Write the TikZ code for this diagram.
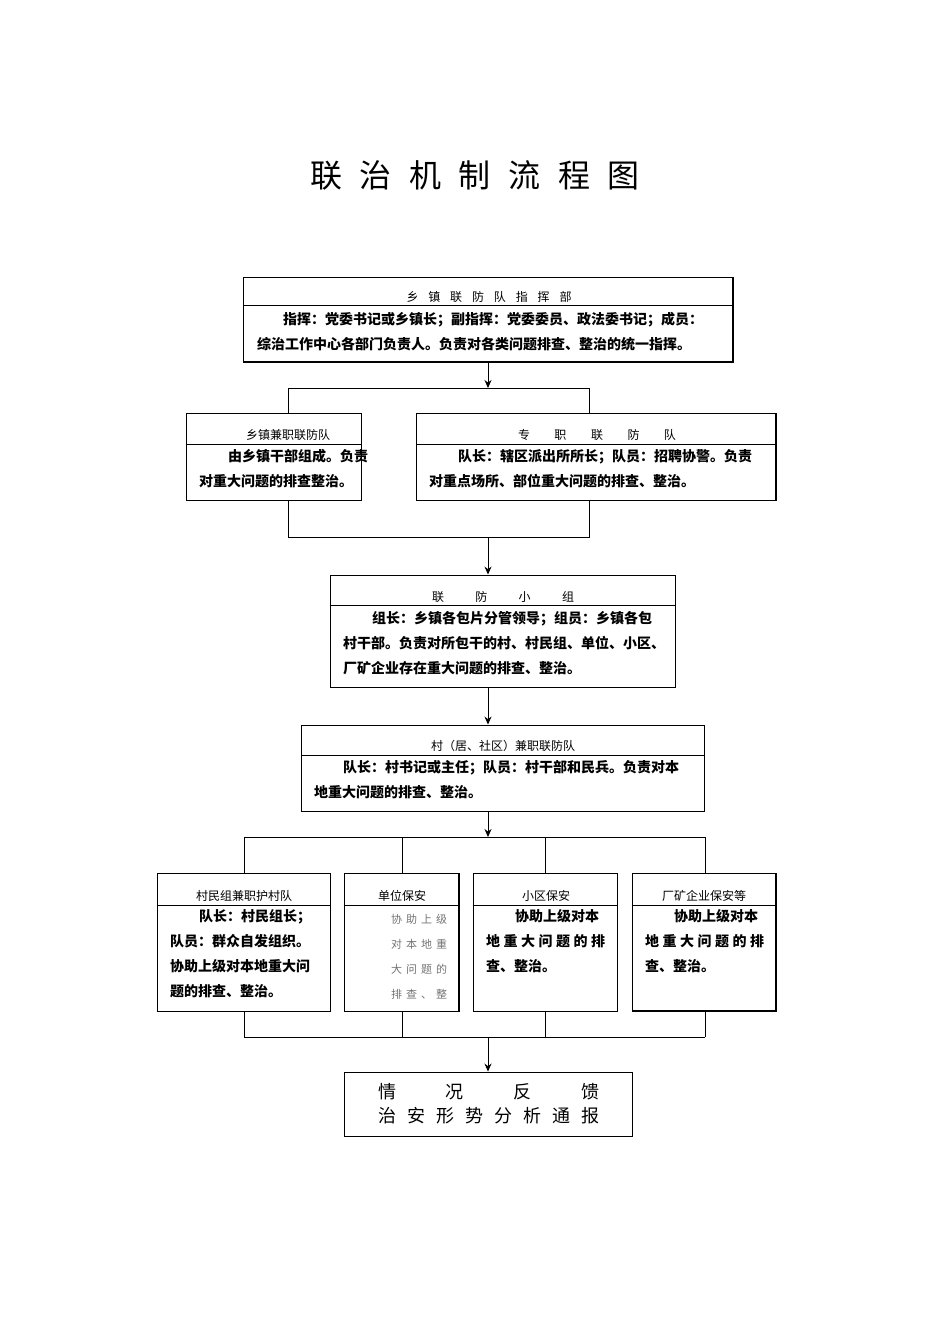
\documentclass[tikz,border=0pt]{standalone}
\usepackage{fontspec}
\setmainfont{Noto Sans CJK SC}
\usetikzlibrary{arrows.meta}
\tikzset{
 box/.style={draw,line width=0.9pt,inner sep=0pt},
 hd/.style={font=\fontsize{12}{12}\selectfont,inner sep=0pt},
 bd/.style={font=\fontsize{14}{25}\selectfont\bfseries,inner sep=0pt,anchor=north west,align=left},
 ln/.style={line width=0.9pt},
 arr/.style={line width=0.9pt,-{Stealth[length=8pt,width=7pt]}},
 sh/.style={line width=2pt}
}
\newcommand{\spr}[2]{\makebox[#1][s]{#2}}
\begin{document}
\begin{tikzpicture}[x=1pt,y=-1pt]
\useasboundingbox (0,0) rectangle (950,1344);
\node[font=\fontsize{32}{32}\selectfont,inner sep=0pt] (title) at (475,175) {\spr{330pt}{联\hfill 治\hfill 机\hfill 制\hfill 流\hfill 程\hfill 图}};
% top
\node[box,minimum width=490,minimum height=85] (top) at (488,319.5) {};
\draw[ln] (243,305) -- (733,305);
\draw[sh] (244,362) -- (733,362) -- (733,278);
\node[hd] (toph) at (489,297) {\spr{165pt}{乡\hfill 镇\hfill 联\hfill 防\hfill 队\hfill 指\hfill 挥\hfill 部}};
\node[bd] (topt) at (257,312) {\hspace*{26pt}指挥：党委书记或乡镇长；副指挥：党委委员、政法委书记；成员：\\综治工作中心各部门负责人。负责对各类问题排查、整治的统一指挥。};
% second row
\node[box,minimum width=175,minimum height=87] (L) at (273.5,456.5) {};
\draw[ln] (186,444) -- (361,444);
\node[hd] (Lh) at (288,435) {乡镇兼职联防队};
\node[bd] (Lt) at (199,449) {\hspace*{29pt}由乡镇干部组成。负责\\对重大问题的排查整治。};
\node[box,minimum width=360,minimum height=87] (R) at (596,456.5) {};
\draw[ln] (416,444) -- (776,444);
\draw[sh] (776,413) -- (776,500);
\node[hd] (Rh) at (597,435) {\spr{158pt}{专\hfill 职\hfill 联\hfill 防\hfill 队}};
\node[bd] (Rt) at (429,449) {\hspace*{29pt}队长：辖区派出所所长；队员：招聘协警。负责\\对重点场所、部位重大问题的排查、整治。};
\coordinate (j1) at (488,388);
\coordinate (j1l) at (288,388);
\coordinate (j1r) at (589,388);
\draw[arr] (top.south) -- (j1);
\draw[ln] (j1l) -- (j1r);
\draw[ln] (j1l) -- (L.north -| j1l);
\draw[ln] (j1r) -- (R.north -| j1r);
\coordinate (j2) at (488,537);
\coordinate (j2l) at (288,537);
\coordinate (j2r) at (589,537);
\draw[ln] (L.south -| j2l) -- (j2l) -- (j2r) -- (R.south -| j2r);
% third
\node[box,minimum width=345,minimum height=112] (B3) at (502.5,631) {};
\draw[ln] (330,605) -- (675,605);
\node[hd] (B3h) at (503,597) {\spr{142pt}{联\hfill 防\hfill 小\hfill 组}};
\node[bd] (B3t) at (343,611) {\hspace*{29pt}组长：乡镇各包片分管领导；组员：乡镇各包\\村干部。负责对所包干的村、村民组、单位、小区、\\厂矿企业存在重大问题的排查、整治。};
\draw[arr] (j2) -- (B3.north -| j2);
% fourth
\node[box,minimum width=403,minimum height=86] (B4) at (502.5,768) {};
\draw[ln] (301,755) -- (704,755);
\node[hd] (B4h) at (503,746) {村（居、社区）兼职联防队};
\node[bd] (B4t) at (314,760) {\hspace*{29pt}队长：村书记或主任；队员：村干部和民兵。负责对本\\地重大问题的排查、整治。};
\draw[arr] (B3.south -| j2) -- (B4.north -| j2);
% fifth row
\coordinate (j3) at (488,837);
\coordinate (j3a) at (244,837);
\coordinate (j3b) at (402,837);
\coordinate (j3c) at (545,837);
\coordinate (j3d) at (705,837);
\draw[arr] (B4.south -| j3) -- (j3);
\draw[ln] (j3a) -- (j3d);
\node[box,minimum width=173,minimum height=138] (B5) at (243.5,942) {};
\node[box,minimum width=115,minimum height=138] (B6) at (401.5,942) {};
\node[box,minimum width=144,minimum height=138] (B7) at (545,942) {};
\node[box,minimum width=144,minimum height=138] (B8) at (704,942) {};
\draw[sh] (459,873) -- (459,1011);
\draw[sh] (776,873) -- (776,1011) -- (632,1011);
\foreach \b/\c in {B5/j3a,B6/j3b,B7/j3c,B8/j3d} {
  \draw[ln] (\c) -- (\b.north -| \c);
  \draw[ln] (\b.west |- 0,905) -- (\b.east |- 0,905);
}
\node[hd] (B5h) at (244,896) {村民组兼职护村队};
\node[hd] (B6h) at (402,896) {单位保安};
\node[hd] (B7h) at (546,896) {小区保安};
\node[hd] (B8h) at (704,896) {厂矿企业保安等};
\node[bd] (B5t) at (170,909) {\hspace*{29pt}队长：村民组长；\\队员：群众自发组织。\\协助上级对本地重大问\\题的排查、整治。};
\node[inner sep=0pt,anchor=north west,align=left,text=black!55,font=\fontsize{11}{25}\selectfont] (B6t) at (391,914) {\spr{56pt}{协\hfill 助\hfill 上\hfill 级}\\\spr{56pt}{对\hfill 本\hfill 地\hfill 重}\\\spr{56pt}{大\hfill 问\hfill 题\hfill 的}\\\spr{56pt}{排\hfill 查\hfill 、\hfill 整}};
\node[bd] (B7t) at (486,909) {\hspace*{29pt}协助上级对本\\\spr{119pt}{地\hfill 重\hfill 大\hfill 问\hfill 题\hfill 的\hfill 排}\\查、整治。};
\node[bd] (B8t) at (645,909) {\hspace*{29pt}协助上级对本\\\spr{119pt}{地\hfill 重\hfill 大\hfill 问\hfill 题\hfill 的\hfill 排}\\查、整治。};
% bottom
\coordinate (j4) at (488,1037);
\coordinate (j4a) at (244,1037);
\coordinate (j4d) at (705,1037);
\foreach \b/\c in {B5/j4a,B6/j3b,B7/j3c,B8/j4d} {
  \draw[ln] (\b.south -| \c) -- (\c |- j4);
}
\draw[ln] (j4a) -- (j4d);
\node[box,minimum width=288,minimum height=64] (F) at (488,1104) {};
\draw[arr] (j4) -- (F.north);
\node[inner sep=0pt,font=\fontsize{18}{24}\selectfont,align=center] (Ft) at (489,1104) {\spr{222pt}{情\hfill 况\hfill 反\hfill 馈}\\\spr{222pt}{治\hfill 安\hfill 形\hfill 势\hfill 分\hfill 析\hfill 通\hfill 报}};
\end{tikzpicture}
\end{document}
